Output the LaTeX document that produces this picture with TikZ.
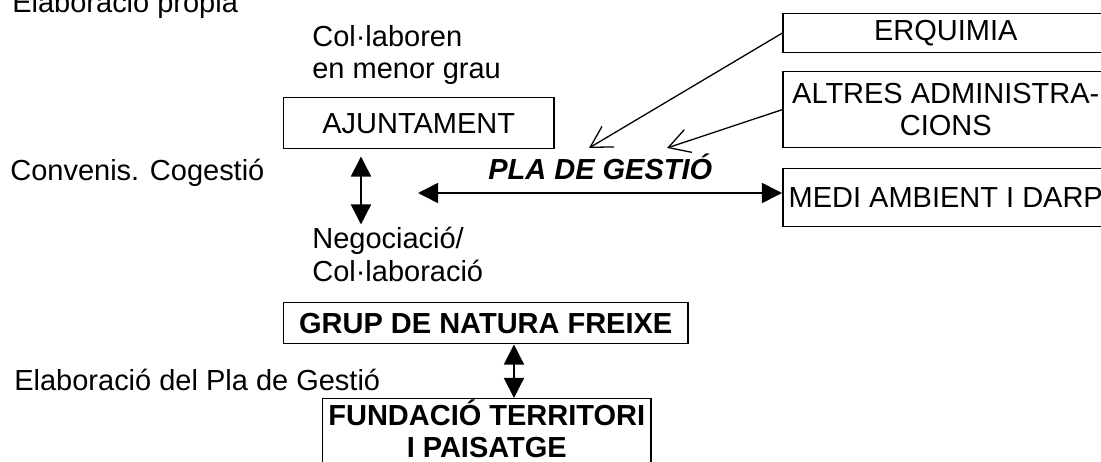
\documentclass[tikz,border=0pt]{standalone}
\usepackage{fontspec}
\setmainfont{Liberation Sans}
\usetikzlibrary{arrows.meta}
\newdimen\px \px=0.02cm
\newcommand\mainsz{\fontsize{16.5pt}{18.5pt}\selectfont}
\tikzset{
  box/.style={draw, line width=0.85pt, inner sep=1\px, anchor=north west},
  lbl/.style={inner sep=0pt, anchor=base west, align=left},
  dblarrow/.style={{Triangle[length=11.4pt,width=11.4pt]}-{Triangle[length=11.4pt,width=11.4pt]}, line width=0.9pt},
  openarrow/.style={-{Straight Barb[length=11.9pt,width=13.6pt]}, line width=0.74pt}
}
\begin{document}
\begin{tikzpicture}[x=1\px, y=-1\px, font=\mainsz]
\useasboundingbox (0,0) rectangle (1101,462);
\clip (0,0) rectangle (1101,462);
% labels on the left (base = last line)
\node[lbl] (propia) at (12,13) {Elaboració propia};
\node[lbl] (menor) at (312,79) {Col·laboren\\en menor grau};
\node[lbl] (conv) at (10,181) {Convenis. Cogestió};
\node[lbl] (negoc) at (312,281) {Negociació/\\Col·laboració};
\node[lbl] (elab) at (14,390) {Elaboració del Pla de Gestió};
\node[lbl, font=\mainsz\bfseries\itshape] (pla) at (488,180) {PLA DE GESTIÓ};
% boxes
\node[box, minimum width=270\px, minimum height=51\px] (ajunt) at (283,97) {AJUNTAMENT};
\node[box, minimum width=326\px, minimum height=39\px] (erq) at (782,13) {ERQUIMIA};
\node[box, minimum width=326\px, minimum height=76\px, align=center] (altres) at (782,71) {ALTRES ADMINISTRA-\\CIONS};
\node[box, minimum width=326\px, minimum height=58\px] (medi) at (782,168) {MEDI AMBIENT I DARP};
\node[box, minimum width=404\px, minimum height=41\px, font=\mainsz\bfseries] (grup) at (283,302) {GRUP DE NATURA FREIXE};
\node[box, minimum width=328\px, align=center, text depth=45\px, font=\mainsz\bfseries] (fund) at (322,398) {FUNDACIÓ TERRITORI\\I PAISATGE};
% arrow ends
\coordinate (tip-erq) at (589,148);
\coordinate (tip-alt) at (667,148);
\coordinate (pla-l) at (418,193);
% arrows
\draw[dblarrow] ([xshift=1.56cm,yshift=-0.14cm]ajunt.south west) -- ([xshift=1.56cm,yshift=-1.5cm]ajunt.south west);
\draw[dblarrow] (pla-l) -- (pla-l -| medi.west);
\draw[openarrow] (erq.west) -- (tip-erq);
\draw[openarrow] (altres.west) -- (tip-alt);
\draw[dblarrow] ([xshift=4.62cm]grup.south west) -- ([xshift=3.84cm]fund.north west);
\end{tikzpicture}
\end{document}
